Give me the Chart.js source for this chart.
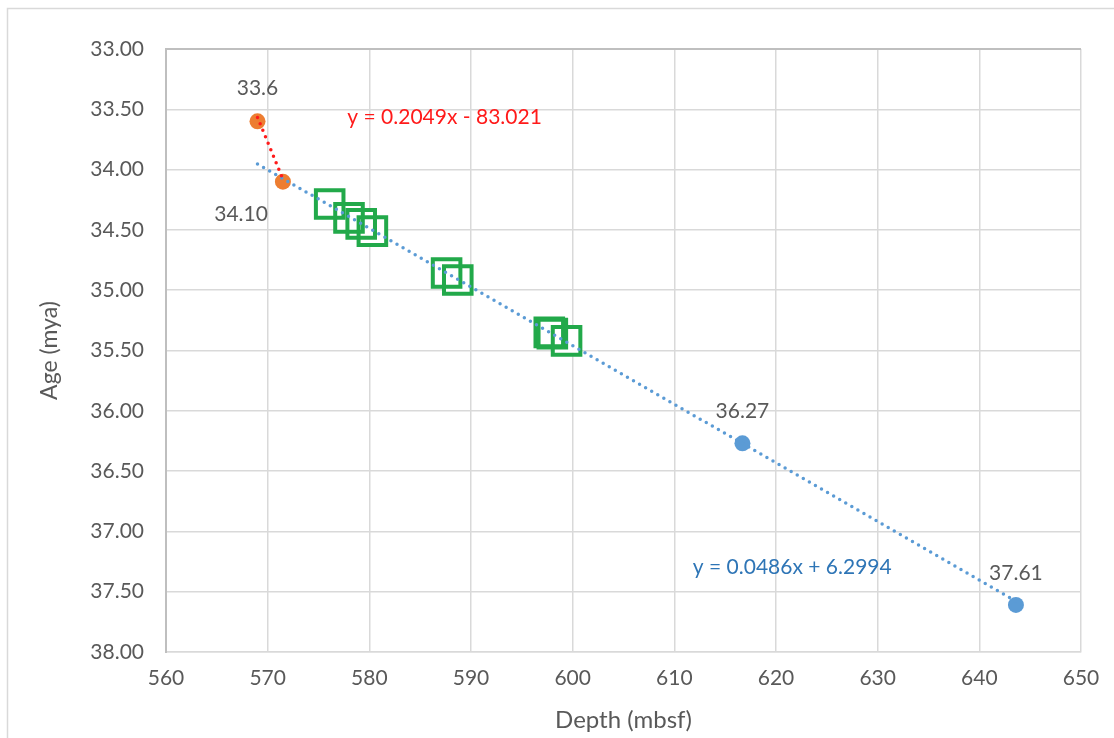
<!DOCTYPE html>
<html>
<head>
<meta charset="utf-8">
<script src="https://cdn.jsdelivr.net/npm/chart.js@4.4.0/dist/chart.umd.min.js"></script>
<style>
  html, body { margin: 0; padding: 0; background: #ffffff; }
  #wrap { width: 1114px; height: 738px; position: relative; }
</style>
</head>
<body>
<div id="wrap"><canvas id="c" width="1114" height="738"></canvas></div>
<script>
// Tick values
const depthTicks = [560, 570, 580, 590, 600, 610, 620, 630, 640, 650];
const ageTicks = [33.0, 33.5, 34.0, 34.5, 35.0, 35.5, 36.0, 36.5, 37.0, 37.5, 38.0];

// Dated horizons (orange) with their labels
const orangeDepth = [569.0, 571.5];
const orangeAge = [33.6, 34.10];
const orangeLabels = ['33.6', '34.10'];

// Dated horizons (blue) with their labels
const blueDepth = [616.7, 643.6];
const blueAge = [36.27, 37.61];
const blueLabels = ['36.27', '37.61'];

// Intermediate samples (green squares)
const greenDepth = [576.1, 578.0, 579.2, 580.3, 587.6, 588.7, 597.7, 598.0, 599.4];
const greenAge = [34.285, 34.40, 34.45, 34.51, 34.857, 34.915, 35.35, 35.36, 35.42];

// Linear fits: [slope, intercept] and the depth span each covers
const redFit = [0.2049, -83.021];
const redFitSpan = [569.0, 571.5];
const blueFit = [0.0486, 6.2994];
const blueFitSpan = [569.0, 643.6];
const redFitText = 'y = 0.2049x - 83.021';
const blueFitText = 'y = 0.0486x + 6.2994';

const pts = (xs, ys) => xs.map((x, i) => ({ x, y: ys[i] }));
const fitLine = (fit, span) => span.map(x => ({ x, y: fit[0] * x + fit[1] }));

const FONT = 'Lato, "Open Sans", sans-serif';
const GREY = '#595959';

// Label placement (pixel offsets from the point)
const labelPlacement = {
  orange: [{ dx: 0, dy: -33, align: 'center' }, { dx: -15, dy: 33, align: 'right' }],
  blue:   [{ dx: 0, dy: -32, align: 'center' }, { dx: 0, dy: -32, align: 'center' }]
};
// Equation text anchors in data units
const equationAnchors = [
  { text: redFitText, x: 587.4, y: 33.564, color: '#FF1A1A' },
  { text: blueFitText, x: 621.6, y: 37.295, color: '#2E75B6' }
];

const framePlugin = {
  id: 'frame',
  beforeDraw(chart) {
    const ctx = chart.ctx;
    ctx.save();
    ctx.fillStyle = '#ffffff';
    ctx.fillRect(0, 0, chart.width, chart.height);
    ctx.strokeStyle = '#D9D9D9';
    ctx.lineWidth = 1.5;
    ctx.strokeRect(7.5, 8.5, 1300, 1000);
    ctx.restore();
  }
};

const textPlugin = {
  id: 'pointText',
  afterDatasetsDraw(chart) {
    const ctx = chart.ctx;
    ctx.save();
    ctx.font = '21px ' + FONT;
    ctx.textBaseline = 'middle';
    ctx.fillStyle = GREY;
    const draw = (dsIndex, labels, place) => {
      const meta = chart.getDatasetMeta(dsIndex);
      meta.data.forEach((el, i) => {
        const p = place[i];
        ctx.textAlign = p.align;
        ctx.fillText(labels[i], el.x + p.dx, el.y + p.dy);
      });
    };
    draw(2, orangeLabels, labelPlacement.orange);
    draw(3, blueLabels, labelPlacement.blue);
    const xs = chart.scales.x, ys = chart.scales.y;
    ctx.textAlign = 'center';
    equationAnchors.forEach(a => {
      ctx.fillStyle = a.color;
      ctx.fillText(a.text, xs.getPixelForValue(a.x), ys.getPixelForValue(a.y));
    });
    ctx.restore();
  }
};

new Chart(document.getElementById('c'), {
  type: 'scatter',
  data: {
    datasets: [
      {
        type: 'line', label: 'fit red', data: fitLine(redFit, redFitSpan), order: 0,
        borderColor: '#FF1A1A', borderWidth: 3.5, borderDash: [0, 7], borderCapStyle: 'round',
        pointRadius: 0, fill: false, showLine: true
      },
      {
        type: 'line', label: 'fit blue', data: fitLine(blueFit, blueFitSpan), order: 1,
        borderColor: '#5B9BD5', borderWidth: 3.5, borderDash: [0, 7], borderCapStyle: 'round',
        pointRadius: 0, fill: false, showLine: true
      },
      {
        label: 'orange', data: pts(orangeDepth, orangeAge), order: 2,
        backgroundColor: '#ED7D31', borderColor: '#ED7D31', pointRadius: 8, borderWidth: 0
      },
      {
        label: 'blue', data: pts(blueDepth, blueAge), order: 3,
        backgroundColor: '#5B9BD5', borderColor: '#5B9BD5', pointRadius: 8, borderWidth: 0
      },
      {
        label: 'samples', data: pts(greenDepth, greenAge), order: 4,
        pointStyle: 'rect', pointRadius: 19.5, borderWidth: 4,
        borderColor: '#22A94A', backgroundColor: 'rgba(0,0,0,0)'
      },
      {
        label: 'samples backing', data: pts(greenDepth, greenAge), order: 5,
        pointStyle: 'rect', pointRadius: 19.5, borderWidth: 0,
        borderColor: 'rgba(0,0,0,0)', backgroundColor: '#ffffff'
      }
    ]
  },
  options: {
    responsive: false,
    devicePixelRatio: 1,
    animation: false,
    layout: { padding: { top: 49, right: 33, left: 0, bottom: 0 } },
    plugins: { legend: { display: false }, tooltip: { enabled: false } },
    scales: {
      x: {
        type: 'linear', min: depthTicks[0], max: depthTicks[depthTicks.length - 1],
        afterBuildTicks: s => { s.ticks = depthTicks.map(v => ({ value: v })); },
        afterFit: s => { s.height = 86; },
        ticks: { font: { family: FONT, size: 21 }, color: GREY, padding: 14, callback: v => String(v) },
        grid: { color: '#D9D9D9', lineWidth: 1.5, drawTicks: false },
        border: { color: '#D9D9D9', width: 1.5 },
        title: { display: true, text: 'Depth (mbsf)', font: { family: FONT, size: 24 }, color: GREY, padding: { top: 0, bottom: 3 } }
      },
      y: {
        type: 'linear', reverse: true, min: ageTicks[0], max: ageTicks[ageTicks.length - 1],
        afterBuildTicks: s => { s.ticks = ageTicks.map(v => ({ value: v })); },
        afterFit: s => { s.width = 166; },
        ticks: { font: { family: FONT, size: 21 }, color: GREY, padding: 22, callback: v => Number(v).toFixed(2) },
        grid: {
          color: c => (c.tick && c.tick.value === ageTicks[0]) ? '#BFBFBF' : '#D9D9D9',
          lineWidth: c => (c.tick && c.tick.value === ageTicks[0]) ? 2 : 1.5,
          drawTicks: false
        },
        border: { color: '#BFBFBF', width: 2 },
        title: { display: true, text: 'Age (mya)', font: { family: FONT, size: 23 }, color: GREY, padding: { top: 36, bottom: 0 } }
      }
    }
  },
  plugins: [framePlugin, textPlugin]
});
</script>
</body>
</html>
